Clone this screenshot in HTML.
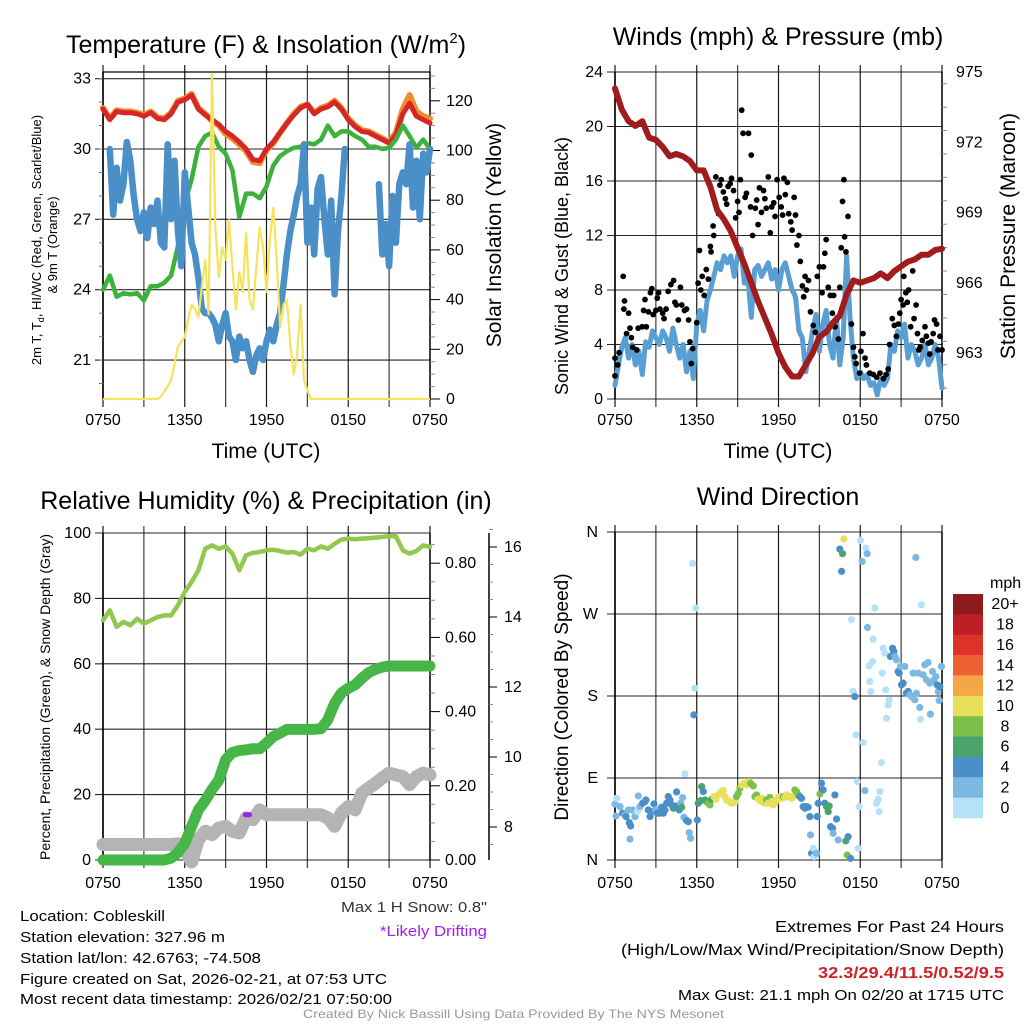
<!DOCTYPE html>
<html><head><meta charset="utf-8"><title>Cobleskill Mesonet Meteogram</title>
<style>
html,body{margin:0;padding:0;background:#fff;}
svg{display:block;font-family:"Liberation Sans",Arial,sans-serif;}
</style></head>
<body>
<svg id="chart" xmlns="http://www.w3.org/2000/svg" width="1024" height="1024" viewBox="0 0 1024 1024">
<rect x="0" y="0" width="1024" height="1024" fill="#fff"/>
<text x="266" y="53" font-size="25" text-anchor="middle">Temperature (F) &amp; Insolation (W/m<tspan font-size="15" dy="-10">2</tspan><tspan dy="10">)</tspan></text>
<text x="778" y="45" font-size="25" text-anchor="middle">Winds (mph) &amp; Pressure (mb)</text>
<text x="266" y="509" font-size="25" text-anchor="middle">Relative Humidity (%) &amp; Precipitation (in)</text>
<text x="778" y="505" font-size="25" text-anchor="middle">Wind Direction</text>

<text transform="translate(41,240) rotate(-90)" font-size="13" text-anchor="middle">2m T, T<tspan font-size="9" dy="3">d</tspan><tspan dy="-3">, HI/WC (Red, Green, Scarlet/Blue)</tspan></text>
<text transform="translate(57,245) rotate(-90)" font-size="13" text-anchor="middle">&amp; 9m T (Orange)</text>
<text transform="translate(501,235) rotate(-90)" font-size="21" text-anchor="middle">Solar Insolation (Yellow)</text>
<text x="266" y="458" font-size="21" text-anchor="middle">Time (UTC)</text>
<text transform="translate(568,266) rotate(-90)" font-size="18" text-anchor="middle">Sonic Wind &amp; Gust (Blue, Black)</text>
<text transform="translate(1015,236) rotate(-90)" font-size="21" text-anchor="middle">Station Pressure (Maroon)</text>
<text x="778" y="458" font-size="21" text-anchor="middle">Time (UTC)</text>
<text transform="translate(50,697) rotate(-90)" font-size="14" text-anchor="middle">Percent, Precipitation (Green), &amp; Snow Depth (Gray)</text>
<text transform="translate(568,697) rotate(-90)" font-size="19" text-anchor="middle">Direction (Colored By Speed)</text>

<g id="p1"></g>
<g id="p2"></g>
<g id="p3"></g>
<g id="p4"></g>

<g font-size="15">
<text x="20" y="921" textLength="145" lengthAdjust="spacingAndGlyphs">Location: Cobleskill</text>
<text x="20" y="942" textLength="205" lengthAdjust="spacingAndGlyphs">Station elevation: 327.96 m</text>
<text x="20" y="963" textLength="241" lengthAdjust="spacingAndGlyphs">Station lat/lon: 42.6763; -74.508</text>
<text x="20" y="984" textLength="367" lengthAdjust="spacingAndGlyphs">Figure created on Sat, 2026-02-21, at 07:53 UTC</text>
<text x="20" y="1004" textLength="372" lengthAdjust="spacingAndGlyphs">Most recent data timestamp: 2026/02/21 07:50:00</text>
</g>
<text x="341" y="912" font-size="15" fill="#333" textLength="146" lengthAdjust="spacingAndGlyphs">Max 1 H Snow: 0.8"</text>
<text x="380" y="936" font-size="15" fill="#a020f0" textLength="107" lengthAdjust="spacingAndGlyphs">*Likely Drifting</text>
<text x="775" y="932" font-size="16" textLength="229" lengthAdjust="spacingAndGlyphs">Extremes For Past 24 Hours</text>
<text x="621" y="955" font-size="16" textLength="383" lengthAdjust="spacingAndGlyphs">(High/Low/Max Wind/Precipitation/Snow Depth)</text>
<text x="818" y="978" font-size="16" font-weight="bold" fill="#d02028" textLength="186" lengthAdjust="spacingAndGlyphs">32.3/29.4/11.5/0.52/9.5</text>
<text x="678" y="1000" font-size="15" textLength="326" lengthAdjust="spacingAndGlyphs">Max Gust: 21.1 mph On 02/20 at 1715 UTC</text>
<text x="303" y="1018" font-size="12" fill="#999" textLength="421" lengthAdjust="spacingAndGlyphs">Created By Nick Bassill Using Data Provided By The NYS Mesonet</text>
</svg>
<script>
// ---------- data ----------
const timeLabels = ["0750","1350","1950","0150","0750"];
// half-hourly series (hours 0..24 step 0.5)
const tempRed = [31.7,31.25,31.6,31.55,31.55,31.5,31.4,31.55,31.3,31.25,31.5,32.0,32.1,32.3,31.7,31.45,31.25,31.05,30.75,30.55,30.3,30.0,29.55,29.5,30.0,30.3,30.7,31.1,31.45,31.75,31.9,31.5,31.7,31.8,32.0,31.7,31.25,30.95,30.75,30.7,30.55,30.4,30.25,30.6,31.5,31.95,31.4,31.25,31.1];
const tempOrange = [31.75,31.3,31.65,31.6,31.6,31.55,31.45,31.6,31.35,31.3,31.55,32.05,32.15,32.35,31.75,31.5,31.2,31.0,30.65,30.45,30.2,29.9,29.45,29.4,29.95,30.25,30.7,31.1,31.5,31.8,31.9,31.55,31.75,31.85,32.05,31.75,31.3,31.0,30.8,30.75,30.6,30.45,30.3,30.7,31.7,32.3,31.6,31.4,31.3];
const dewGreen = [24.0,24.6,23.7,23.85,23.8,23.85,23.55,24.15,24.15,24.3,24.6,25.85,27.7,28.7,30.1,30.55,30.7,30.1,29.8,29.1,27.1,28.1,28.1,27.9,28.4,29.3,29.7,29.9,30.05,30.1,30.25,30.2,30.4,31.0,30.55,30.75,30.75,30.55,30.4,30.1,30.1,30.0,30.05,30.4,31.0,30.55,30.05,30.4,30.0];
// quarter-hourly wind chill (hours 0..24 step 0.25), null = missing
const chillBlue = [null,null,30.0,27.2,29.2,27.8,28.5,30.3,29.5,28.0,27.0,26.5,27.3,26.2,27.5,26.8,27.8,26.0,25.8,30.2,27.0,29.5,26.5,25.0,29.0,27.5,26.0,25.5,24.5,23.2,23.0,23.0,22.8,22.5,21.8,22.5,23.0,22.0,21.8,21.0,22.0,21.5,21.8,21.0,20.5,21.2,21.5,21.0,21.8,22.3,21.8,22.5,23.0,24.2,25.5,26.5,27.2,28.0,28.5,30.2,26.0,27.5,25.5,28.3,28.8,27.0,25.5,27.8,23.8,26.5,28.0,30.0,null,null,null,null,null,null,null,null,null,28.5,25.5,26.8,25.0,28.0,26.0,28.5,29.0,28.5,30.2,27.5,29.5,27.0,29.8,29.0,30.0];
const insolation = [0,0,0,0,0,0,0,0,0,0,0,0,0,0,0,0,0,1,3,5,7.6,14,21,23,25,32,38,36,33,45,56,34,131,69,49,61,56,72,53,36,51,43,67,40,36,53,69,61,43,64,77,56,29,38,40,22,10,18,38,7.6,3.6,0,0,0,0,0,0,0,0,0,0,0,0,0,0,0,0,0,0,0,0,0,0,0,0,0,0,0,0,0,0,0,0,0,0,0,0];
const tempTicks = [21,24,27,30,33];
const insolTicks = [0,20,40,60,80,100,120];

const windBlue = [1.0,2.5,3.8,4.5,3.0,4.0,2.5,3.5,1.8,4.2,3.8,5.0,4.5,4.0,5.0,4.5,3.5,5.2,4.0,3.0,4.0,2.0,3.5,1.5,5.5,6.5,5.0,7.2,8.0,9.0,10.0,9.5,10.5,10.0,10.5,9.0,10.5,11.0,8.5,9.0,6.0,9.5,9.8,9.0,9.5,10.0,8.8,9.5,8.0,9.5,10.0,9.0,8.0,7.5,5.0,4.5,2.0,3.5,5.0,6.2,3.5,5.5,6.5,4.0,3.0,6.0,2.5,4.5,10.5,6.0,3.0,1.5,2.0,1.5,1.8,1.0,1.2,0.3,1.5,1.0,1.5,4.0,3.5,5.0,4.5,5.5,3.0,4.0,3.5,2.5,3.0,4.0,2.5,3.0,4.0,3.0,0.8];
const gustHours = [0,0,0.2,0.3,0.6,0.7,0.65,1.0,0.85,1.1,1.2,1.3,1.6,1.7,2.0,2.1,2.2,2.3,2.45,2.6,2.7,2.8,3.0,3.1,3.2,3.3,3.5,3.6,3.75,3.9,4.1,4.3,4.4,4.5,4.65,4.8,4.9,5.1,5.25,5.4,5.5,5.6,5.7,6.0,6.1,6.2,6.3,6.4,6.55,6.7,6.85,7.0,7.05,7.2,7.25,7.4,7.6,7.7,7.8,7.95,8.1,8.2,8.3,8.45,8.55,8.7,8.85,9.0,9.1,9.2,9.3,9.4,9.55,9.65,9.8,9.95,10.0,10.1,10.3,10.4,10.5,10.6,10.75,10.9,11.0,11.1,11.25,11.4,11.5,11.65,11.75,11.9,12.05,12.2,12.3,12.4,12.5,12.65,12.75,12.9,13.0,13.15,13.25,13.35,13.5,13.6,13.75,13.85,13.95,14.05,14.2,14.35,14.55,14.7,14.85,15.0,15.2,15.3,15.4,15.5,15.65,15.8,15.95,16.05,16.15,16.25,16.4,16.5,16.6,16.7,16.8,16.85,16.95,17.1,17.2,17.35,17.5,17.6,17.7,17.95,18.05,18.2,18.35,18.45,18.7,18.95,19.2,19.45,19.7,19.9,20.05,20.15,20.35,20.5,20.65,20.8,20.9,21.0,21.15,21.2,21.35,21.45,21.55,21.7,21.85,21.95,22.1,22.2,22.3,22.4,22.55,22.75,22.85,23.0,23.1,23.2,23.35,23.45,23.6,23.7,23.85,24.0];
const gustMph = [1.7,3.0,2.5,3.4,9.0,7.2,6.6,6.3,4.8,5.2,4.5,3.8,3.6,5.2,5.3,6.5,7.3,5.3,6.4,7.8,8.1,6.2,6.5,7.4,7.8,6.6,6.3,5.9,6.6,7.9,8.4,8.7,7.1,6.9,5.8,8.2,6.9,6.5,6.6,5.8,4.2,2.6,3.7,5.6,8.5,10.9,8.0,9.0,7.6,9.5,8.8,11.2,10.8,12.7,12.0,16.3,13.6,15.7,16.1,15.2,14.7,14.3,15.6,15.8,16.2,15.3,13.3,14.5,13.7,16.1,21.2,19.5,14.8,15.1,19.5,14.1,17.9,12.0,14.0,14.6,12.8,15.5,13.7,15.3,14.7,14.0,16.3,12.2,14.1,14.4,13.4,16.1,14.8,14.1,13.5,16.2,15.0,15.9,13.6,13.0,12.4,14.8,13.5,11.3,12.0,10.1,8.3,7.5,9.0,8.0,8.7,6.4,5.4,4.9,9.0,9.7,7.8,9.7,10.7,11.7,8.2,7.6,6.3,7.6,5.3,5.8,4.4,8.2,11.1,14.5,16.1,11.9,10.8,13.4,8.0,5.5,3.8,3.1,2.6,1.9,3.5,4.8,3.0,2.5,1.9,1.8,1.6,1.9,1.5,1.8,2.2,4.0,5.9,5.4,4.6,5.5,6.3,7.3,6.9,9.0,7.8,7.1,8.0,5.3,9.4,5.9,6.9,4.8,3.6,3.8,4.3,5.3,4.6,4.1,3.3,4.2,4.8,5.8,5.5,3.6,4.6,3.6];
const pressure = [974.3,973.4,972.9,972.7,972.9,972.2,972.1,971.8,971.4,971.5,971.4,971.2,970.8,970.8,970.1,969.1,968.7,968.2,967.5,966.8,966.0,965.2,964.5,963.8,963.0,962.4,962.0,962.0,962.5,963.0,963.7,963.9,964.3,964.6,965.5,966.1,966.0,966.1,966.2,966.4,966.2,966.5,966.7,966.9,967.0,967.2,967.2,967.4,967.45];
const windTicks = [0,4,8,12,16,20,24];
const pressTicks = [963,966,969,972,975];

const rhLight = [73.3,76.4,71.3,72.8,71.8,73.8,72.3,73.3,74.3,74.8,74.8,77.9,82,85,88.6,95.2,96.2,95.2,95.9,93.7,88.6,93.2,93.9,94.2,94.7,94.9,94.5,94.0,94.2,93.4,95.2,94.7,95.9,95.2,96.7,98.0,98.3,98.1,98.3,98.4,98.6,98.8,99.0,99.0,94.7,93.7,94.5,96.2,95.7];
const precip = [0,0,0,0,0,0,0,0,0,0,0.005,0.02,0.045,0.09,0.135,0.16,0.19,0.215,0.27,0.29,0.295,0.297,0.3,0.3,0.315,0.333,0.342,0.352,0.352,0.352,0.352,0.352,0.354,0.378,0.422,0.45,0.463,0.472,0.49,0.505,0.514,0.52,0.523,0.523,0.523,0.523,0.523,0.523,0.523];
const snowDepth = [7.5,7.5,7.5,7.5,7.5,7.5,7.5,7.5,7.5,7.5,7.5,7.52,7.35,7.0,7.64,7.88,7.78,7.97,8.02,7.88,7.83,8.26,8.21,8.49,8.35,8.35,8.35,8.35,8.35,8.35,8.35,8.35,8.35,8.26,8.02,8.4,8.59,8.49,8.97,9.11,9.25,9.4,9.54,9.49,9.44,9.21,9.44,9.54,9.49];
const driftHours = [10.3,10.9];
const driftSnow = [8.35,8.35];
const pctTicks = [0,20,40,60,80,100];
const precipTicks = [0.00,0.20,0.40,0.60,0.80];
const snowTicks = [8,10,12,14,16];

const dirHours = [0,0.12,0.07,0.37,0.56,0.73,0.81,0.98,1.05,1.15,1.1,1.3,1.47,1.64,1.71,1.83,2.03,2.2,2.27,2.44,2.57,2.69,2.86,3.0,3.1,3.3,3.42,3.55,3.67,3.79,3.91,4.03,4.16,4.28,4.4,4.52,4.72,4.82,4.89,4.96,5.06,5.26,5.38,5.45,5.55,5.13,5.7,5.79,5.87,5.94,6.04,6.11,6.19,6.28,6.36,6.48,6.6,6.72,6.85,6.97,7.09,7.26,7.41,7.58,7.7,7.82,7.95,8.07,8.19,8.31,8.48,8.63,8.8,8.92,9.05,9.17,9.29,9.46,9.61,9.71,9.83,9.95,10.15,10.27,10.39,10.51,10.64,10.76,10.88,11.0,11.12,11.25,11.37,11.49,11.61,11.74,11.86,11.98,12.1,12.22,12.35,12.47,12.59,12.71,12.84,12.96,13.08,13.2,13.33,13.45,13.57,13.69,13.81,13.94,14.06,14.18,14.3,14.35,14.43,14.55,14.6,14.79,14.84,14.91,15.04,15.16,15.28,15.4,15.53,15.65,15.72,15.82,15.97,16.01,16.14,16.26,16.38,16.5,16.63,16.7,16.8,16.94,17.04,17.11,17.29,17.36,17.48,17.6,17.68,17.78,17.85,17.92,18.02,18.14,18.22,18.34,18.41,18.51,18.53,18.66,18.7,18.78,18.9,18.95,19.07,19.19,19.32,19.39,19.44,19.56,19.61,19.68,19.8,19.88,19.93,20.05,20.12,20.22,20.37,20.46,20.54,20.66,20.78,20.86,20.95,21.03,21.15,21.27,21.39,21.52,21.64,21.76,21.88,22.0,22.08,22.13,22.25,22.37,22.42,22.49,22.62,22.74,22.86,22.98,23.11,23.15,23.3,23.4,23.55,23.64,23.72,23.79,23.84,23.96];
const dirDegs = [61.5,67.7,48.3,58.6,51.3,49.4,47.6,54.9,41,37.4,23,54.9,47.6,53.1,70.3,58.6,62.3,64.1,65.9,54.9,47.6,53.1,61.5,54.9,51.3,51.3,57.9,51.3,54.9,62.3,69.6,65.9,60.4,56.8,59.3,74.7,54.9,62.3,57.9,68.5,46.9,43.2,42.1,30,23.8,94.5,325.6,159.3,188.6,276.5,43.9,62.3,64.1,65.2,80.6,75.1,65.9,64.1,62.3,60.4,66.6,69.6,66.6,71.4,73.2,75.1,76.2,69.6,65.9,65.2,63,62.3,64.1,69.6,73.2,78.7,82.4,84.2,83.5,82.4,86.1,84.2,81.3,69.6,71.4,66.6,65.2,67.7,63,62.3,65.9,62.3,68.8,64.1,60.4,62.3,65.9,68.8,69.6,67.7,69.6,68.8,71.4,69.6,69.6,67.7,69.6,76.9,75.1,71.4,69.6,67.7,58.6,56.8,58.6,57.9,47.6,27.5,7.3,12.8,3.7,7.3,47.6,62.3,72.5,84.2,76.9,62.3,58.6,53.1,59.3,36.6,34.8,29.3,71.4,45,22,341.3,316.8,336.2,352.3,20.9,5.5,25.6,1.8,263.7,184.9,179.4,137.3,86.1,12.8,58.6,350.8,327.7,128.9,76.2,342.4,336.2,255.2,213.1,195.9,184.9,217.9,242.4,276.5,62.3,66.6,53.1,75.1,106.9,205.1,232.5,227,186.8,155.6,170.3,175.8,223.4,232.5,228.9,223.4,219.7,206.9,205.1,212.4,192.3,194.1,212.4,183.1,184.9,181.3,179.4,205.1,175.8,332.1,183.1,205.1,167.4,154.5,280.1,203.2,214.2,197.7,216.8,194.1,160,206.9,197.7,201.4,192.3,184.9,175,190.4,212.4];
const dirSpeeds = [2,1,3,3,4,3,4,2,4,4,2,2,2,1,2,2,4,4,4,4,4,4,4,2,4,4,4,4,4,4,4,4,4,6,4,4,4,2,6,2,2,4,4,2,2,1,1,4,1,1,4,4,6,6,6,4,6,6,8,8,6,10,10,10,10,10,10,10,10,10,10,10,10,8,8,8,10,10,10,10,10,8,8,8,8,10,10,10,10,10,8,10,8,10,10,10,10,10,10,10,8,10,10,10,10,10,10,8,8,8,4,4,4,4,4,4,4,2,4,1,1,2,4,4,8,4,4,4,6,6,6,4,4,2,4,4,2,4,4,6,11,7,8,4,4,1,1,4,1,1,1,1,1,2,1,2,1,2,2,1,1,1,1,1,1,1,1,1,1,1,1,1,1,1,1,1,1,4,4,4,2,2,4,4,2,4,4,2,4,4,2,2,2,2,2,2,2,2,1,1,2,2,2,2,2,2,2,2,2,4,2,2,4,2,2];
const dirTickLabels = ["N","E","S","W","N"];
const dirTicks = [0,90,180,270,360];
const speedBinLabels = ["20+","18","16","14","12","10","8","6","4","2","0"];
const speedColors = ["#b6e2f7","#7bb9e3","#4a8fc8","#4aa56d","#7cc04b","#e7e05a","#f6a645","#ee6130","#dc3228","#bf1e24","#8e1a1c"];

// ---------- helpers ----------
const NS = "http://www.w3.org/2000/svg";
function mk(parent, tag, attrs, txt){
  const e = document.createElementNS(NS, tag);
  for (const k in attrs) e.setAttribute(k, attrs[k]);
  if (txt !== undefined) e.textContent = txt;
  parent.appendChild(e);
  return e;
}
function pathFrom(step, vals, sx, sy){
  let d = "", pen = false;
  vals.forEach((v,i)=>{
    if (v === null){ pen = false; return; }
    d += (pen ? "L" : "M") + sx(i*step).toFixed(1) + " " + sy(v).toFixed(1);
    pen = true;
  });
  return d;
}
const L = 103, R = 430, L2 = 615, R2 = 942;
const TF = 16;
function timeX(x0, x1){ return h => x0 + (x1-x0)*h/24; }

function drawFrame(g, x0, x1, y0, y1, hLines, labelY){
  const sx = timeX(x0, x1);
  for (let k=0;k<=8;k++){
    const x = sx(k*3);
    const ln = mk(g,"line",{x1:x,x2:x,y1:y0-7,y2:y1+8,stroke:"#000","stroke-width":1.2,"stroke-opacity":(k%2? 0.75:0.9)});
    
    
  }
  hLines.forEach(y=>{
    const ln = mk(g,"line",{x1:x0-8,x2:x1,y1:y,y2:y,stroke:"#000","stroke-width":1.1,"stroke-opacity":0.85});
    
    
  });
  timeLabels.forEach((t,i)=>{
    const tx = mk(g,"text",{x:sx(i*6),y:labelY,"font-size":TF,"text-anchor":"middle"},t);
    
    
  });
  const bl = mk(g,"line",{x1:x0,x2:x0,y1:y0,y2:y1,stroke:"#000","stroke-width":1.6});
  
  
  const br = mk(g,"line",{x1:x1,x2:x1,y1:y0,y2:y1,stroke:"#000","stroke-width":1.4});
  
  
  return sx;
}

// ---------- Panel 1 ----------
(function(){
  const g = document.getElementById("p1");
  const top = 72, bot = 399;
  const ty = v => 149 - (v-30)*23.45;
  const iy = v => bot - v*2.485;
  const sx = drawFrame(g, L, R, top, bot, tempTicks.map(ty), 425);
  const tl = mk(g,"line",{x1:L,x2:R,y1:top,y2:top,stroke:"#000","stroke-width":1.2});
  
  
  tempTicks.forEach(v=>{
    const t = mk(g,"text",{x:L-12,y:ty(v)+5,"font-size":TF,"text-anchor":"end"},String(v));
    
    
  });
  for (let v=20; v<=33; v++){ const m = mk(g,"line",{x1:L-4,x2:L,y1:ty(v),y2:ty(v),stroke:"#777"});   }
  for (let v=0; v<=130; v+=5){
    const major = v%20===0;
    const m = mk(g,"line",{x1:R,x2:R+(major?10:5),y1:iy(v),y2:iy(v),stroke:major?"#000":"#888"});
    
    
  }
  insolTicks.forEach(v=>{
    const t = mk(g,"text",{x:R+16,y:iy(v)+5,"font-size":TF},String(v));
    
    
  });
  const a = mk(g,"path",{d:pathFrom(0.5,tempOrange,sx,ty),fill:"none",stroke:"#f28a2e","stroke-width":6,"stroke-linejoin":"round","stroke-linecap":"round"});
  
  
  const b = mk(g,"path",{d:pathFrom(0.5,tempRed,sx,ty),fill:"none",stroke:"#d62728","stroke-width":5,"stroke-linejoin":"round","stroke-linecap":"round"});
  
  
  const c = mk(g,"path",{d:pathFrom(0.5,dewGreen,sx,ty),fill:"none",stroke:"#3cb13c","stroke-width":4.5,"stroke-linejoin":"round","stroke-linecap":"round"});
  
  
  const d = mk(g,"path",{d:pathFrom(0.25,chillBlue,sx,ty),fill:"none",stroke:"#4a8fc8","stroke-width":6.5,"stroke-linejoin":"round","stroke-linecap":"round"});
  
  
  const e = mk(g,"path",{d:pathFrom(0.25,insolation,sx,iy),fill:"none",stroke:"#f5e35c","stroke-width":2.2,"stroke-linejoin":"round"});
  
  
})();

// ---------- Panel 2 ----------
(function(){
  const g = document.getElementById("p2");
  const top = 72, bot = 399;
  const wy = v => bot - v*13.625;
  const py = v => top + (975-v)*23.42;
  const sx = drawFrame(g, L2, R2, top, bot, windTicks.map(wy), 425);
  windTicks.forEach(v=>{
    const t = mk(g,"text",{x:L2-12,y:wy(v)+5,"font-size":TF,"text-anchor":"end"},String(v));
    
    
  });
  for (let v=961.5; v<=975; v+=1){
    const major = pressTicks.indexOf(v)>=0;
    const m = mk(g,"line",{x1:R2,x2:R2+(major?10:5),y1:py(v),y2:py(v),stroke:major?"#000":"#888"});
    
    
  }
  pressTicks.forEach(v=>{
    const t = mk(g,"text",{x:R2+14,y:py(v)+5,"font-size":TF},String(v));
    
    
  });
  const w = mk(g,"path",{d:pathFrom(0.25,windBlue,sx,wy),fill:"none",stroke:"#5a9fd4","stroke-width":5,"stroke-linejoin":"round","stroke-linecap":"round"});
  
  
  gustHours.forEach((h,i)=>{
    const c = mk(g,"circle",{cx:sx(h),cy:wy(gustMph[i]),r:2.9,fill:"#000"});
    
    
  });
  const p = mk(g,"path",{d:pathFrom(0.5,pressure,sx,py),fill:"none",stroke:"#a01c1c","stroke-width":6,"stroke-linejoin":"round","stroke-linecap":"round"});
  
  
})();

// ---------- Panel 3 ----------
(function(){
  const g = document.getElementById("p3");
  const top = 533, bot = 860;
  const hy = v => bot - v*3.27;
  const ry = v => bot - v*371;
  const sy = v => 827 - (v-8)*35;
  const sx = drawFrame(g, L, R, top, bot, pctTicks.map(hy), 888);
  pctTicks.forEach(v=>{
    const t = mk(g,"text",{x:L-12,y:hy(v)+5,"font-size":TF,"text-anchor":"end"},String(v));
    
    
  });
  for (let v=0; v<=0.88; v+=0.05){
    const major = Math.abs(v*5-Math.round(v*5))<0.001;
    const m = mk(g,"line",{x1:R,x2:R+(major?10:5),y1:ry(v),y2:ry(v),stroke:major?"#000":"#888"});
    
    
  }
  precipTicks.forEach(v=>{
    const t = mk(g,"text",{x:R+15,y:ry(v)+5,"font-size":TF},v.toFixed(2));
    
    
  });
  const sa = mk(g,"line",{x1:489,x2:489,y1:top,y2:bot,stroke:"#000","stroke-width":1.5});
  
  
  for (let v=7.5; v<=16.5; v+=0.5){
    const major = snowTicks.indexOf(v)>=0;
    const m = mk(g,"line",{x1:489,x2:489+(major?8:4),y1:sy(v),y2:sy(v),stroke:major?"#000":"#888"});
    
    
  }
  snowTicks.forEach(v=>{
    const t = mk(g,"text",{x:504,y:sy(v)+5,"font-size":TF},String(v));
    
    
  });
  const s = mk(g,"path",{d:pathFrom(0.5,snowDepth,sx,sy),fill:"none",stroke:"#b4b4b4","stroke-width":13,"stroke-linejoin":"round","stroke-linecap":"round"});
  
  
  const pr = mk(g,"path",{d:pathFrom(0.5,precip,sx,ry),fill:"none",stroke:"#46b648","stroke-width":11,"stroke-linejoin":"round","stroke-linecap":"round"});
  
  
  const rh = mk(g,"path",{d:pathFrom(0.5,rhLight,sx,hy),fill:"none",stroke:"#92c850","stroke-width":4.5,"stroke-linejoin":"round","stroke-linecap":"round"});
  
  
  const dr = mk(g,"line",{x1:sx(driftHours[0])+2,x2:sx(driftHours[1])-2,y1:sy(driftSnow[0]),y2:sy(driftSnow[1]),stroke:"#a020f0","stroke-width":5,"stroke-linecap":"round"});
  
  
})();

// ---------- Panel 4 ----------
(function(){
  const g = document.getElementById("p4");
  const top = 532, bot = 860;
  const dy = v => bot - v*(bot-top)/360;
  const sx = drawFrame(g, L2, R2, top, bot, dirTicks.map(dy), 888);
  dirTickLabels.forEach((t,i)=>{
    const e = mk(g,"text",{x:L2-17,y:dy(dirTicks[i])+5,"font-size":TF,"text-anchor":"end"},t);
    
    
  });
  dirHours.forEach((h,i)=>{
    const bin = Math.min(10, Math.floor(dirSpeeds[i]/2));
    const c = mk(g,"circle",{cx:sx(h),cy:dy(dirDegs[i]),r:3.6,fill:speedColors[bin]});
    
    
  });
  const lt = mk(g,"text",{x:990,y:588,"font-size":16},"mph");
  
  
  const bh = (818-594)/11;
  speedBinLabels.forEach((lab,i)=>{
    const r = mk(g,"rect",{x:953,y:594+i*bh,width:30,height:bh+0.3,fill:speedColors[10-i]});
    
    
    const t = mk(g,"text",{x:1005,y:594+i*bh+bh/2+5,"font-size":16,"text-anchor":"middle"},lab);
    
    
  });
})();
</script>
</body></html>
